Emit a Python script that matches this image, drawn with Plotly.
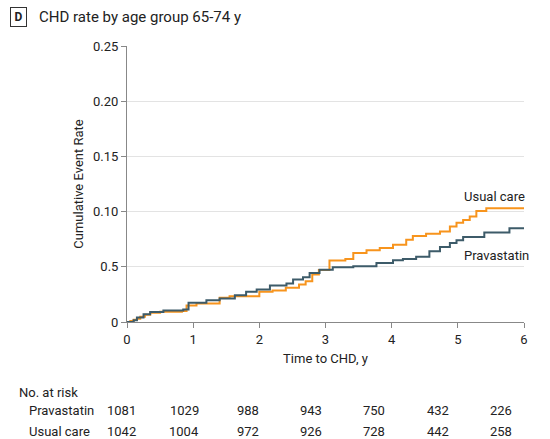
import plotly.graph_objects as go

# Kaplan-Meier style cumulative CHD event rate, ages 65-74
usual_t = [0, 0.05, 0.1, 0.15, 0.2, 0.27, 0.35, 0.5, 0.83, 0.9, 1.05, 1.4, 1.55, 1.8, 2.0, 2.2,
           2.4, 2.6, 2.7, 2.8, 2.9, 3.06, 3.3, 3.42, 3.62, 3.82, 4.02, 4.22, 4.32, 4.52, 4.73,
           4.88, 4.98, 5.08, 5.18, 5.28, 5.43, 6.0]
usual_v = [0, 0.001, 0.002, 0.003, 0.0048, 0.0065, 0.0084, 0.0093, 0.0099, 0.015, 0.0168, 0.022,
           0.0234, 0.0234, 0.0273, 0.0285, 0.031, 0.034, 0.037, 0.043, 0.047, 0.0556, 0.057,
           0.0625, 0.065, 0.067, 0.070, 0.0745, 0.078, 0.080, 0.082, 0.0865, 0.090, 0.0925,
           0.0955, 0.1006, 0.103, 0.103]

prava_t = [0, 0.1, 0.15, 0.25, 0.35, 0.55, 0.85, 0.93, 1.2, 1.4, 1.63, 1.8, 1.96, 2.16, 2.41,
           2.51, 2.66, 2.76, 2.91, 3.11, 3.42, 3.77, 4.02, 4.17, 4.37, 4.57, 4.73, 4.88, 4.98,
           5.08, 5.4, 5.78, 6.0]
prava_v = [0, 0.0015, 0.004, 0.007, 0.009, 0.0105, 0.0114, 0.0174, 0.0198, 0.0213, 0.0243,
           0.0273, 0.0294, 0.033, 0.0348, 0.0384, 0.0405, 0.0444, 0.0474, 0.0495, 0.0505,
           0.0535, 0.056, 0.057, 0.059, 0.064, 0.068, 0.0715, 0.074, 0.077, 0.081, 0.085, 0.085]

y_ticks = [0, 0.05, 0.10, 0.15, 0.20, 0.25]
y_tick_labels = ["0", "0.5", "0.10", "0.15", "0.20", "0.25"]
x_ticks = [0, 1, 2, 3, 4, 5, 6]

risk_groups = ["Pravastatin", "Usual care"]
risk_prava = [1081, 1029, 988, 943, 750, 432, 226]
risk_usual = [1042, 1004, 972, 926, 728, 442, 258]

ORANGE = "#F7941D"
SLATE = "#3D5B69"
FONT = "Roboto, Noto Sans, sans-serif"
TXT = "#222222"

W, H = 550, 439
L, R, T, B = 127, 26, 46, 117
PW, PH = W - L - R, H - T - B


def px_x(p):
    return (p - L) / PW


def px_y(p):
    return (H - B - p) / PH


fig = go.Figure()
fig.add_trace(go.Scatter(x=usual_t, y=usual_v, mode="lines", line=dict(color=ORANGE, width=2, shape="hv"),
                         name="Usual care", showlegend=False, hoverinfo="skip"))
fig.add_trace(go.Scatter(x=prava_t, y=prava_v, mode="lines", line=dict(color=SLATE, width=2, shape="hv"),
                         name="Pravastatin", showlegend=False, hoverinfo="skip"))

ann = []
# panel title
ann.append(dict(xref="paper", yref="paper", x=px_x(19), y=px_y(17), text="<b>D</b>", showarrow=False,
                font=dict(family=FONT, size=12, color=TXT), bordercolor="#333333", borderwidth=1,
                borderpad=2, width=11, xanchor="center", yanchor="middle"))
ann.append(dict(xref="paper", yref="paper", x=px_x(37), y=px_y(17), text="CHD rate by age group 65-74 y",
                showarrow=False, font=dict(family=FONT, size=15, color=TXT), xanchor="left", yanchor="middle"))
# line labels
ann.append(dict(xref="paper", yref="paper", x=px_x(527), y=px_y(196), text="Usual care", showarrow=False,
                font=dict(family=FONT, size=13, color=TXT), xanchor="right", yanchor="middle"))
ann.append(dict(xref="paper", yref="paper", x=px_x(531), y=px_y(255), text="Pravastatin", showarrow=False,
                font=dict(family=FONT, size=13, color=TXT), xanchor="right", yanchor="middle"))
# number-at-risk table
ann.append(dict(xref="paper", yref="paper", x=px_x(17), y=px_y(392), text="No. at risk", showarrow=False,
                font=dict(family=FONT, size=13, color=TXT), xanchor="left", yanchor="middle"))
row_y = [411, 431]
for name, counts, ry in zip(risk_groups, [risk_prava, risk_usual], row_y):
    ann.append(dict(xref="paper", yref="paper", x=px_x(27), y=px_y(ry), text=name, showarrow=False,
                    font=dict(family=FONT, size=13, color=TXT), xanchor="left", yanchor="middle"))
    for i, c in enumerate(counts):
        cx = 121 + i * 63.3
        ann.append(dict(xref="paper", yref="paper", x=px_x(cx), y=px_y(ry), text=str(c), showarrow=False,
                        font=dict(family=FONT, size=13, color=TXT), xanchor="center", yanchor="middle"))

fig.update_layout(
    width=W, height=H,
    margin=dict(l=L, r=R, t=T, b=B),
    paper_bgcolor="white", plot_bgcolor="white",
    font=dict(family=FONT, size=13, color=TXT),
    annotations=ann,
    xaxis=dict(range=[0, 6], tickvals=x_ticks, ticks="outside", ticklen=5, tickcolor="#888888",
               showline=True, linecolor="#888888", linewidth=1, showgrid=False, zeroline=False,
               tickfont=dict(size=13, color=TXT),
               title=dict(text="Time to CHD, y", font=dict(size=13, color=TXT), standoff=8)),
    yaxis=dict(range=[0, 0.25], tickvals=y_ticks, ticktext=y_tick_labels, ticks="outside", ticklen=5,
               tickcolor="#888888", showline=True, linecolor="#888888", linewidth=1,
               showgrid=True, gridcolor="#e3e3e3", gridwidth=1, zeroline=False,
               tickfont=dict(size=13, color=TXT),
               title=dict(text="Cumulative Event Rate", font=dict(size=13, color=TXT), standoff=6)),
)

fig.write_html("out.html")
